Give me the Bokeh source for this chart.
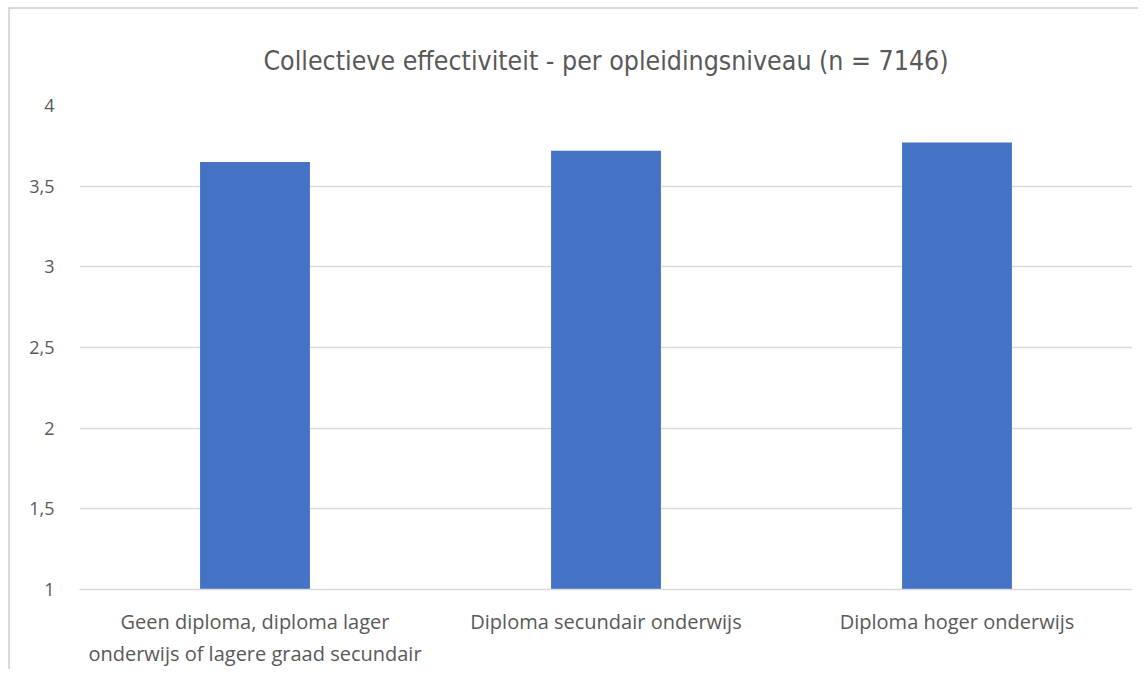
from bokeh.plotting import figure
from bokeh.models import ColumnDataSource, FactorRange, Range1d, FixedTicker, CustomJSTickFormatter
from bokeh.embed import file_html
from bokeh.resources import INLINE

categories = [
    "Geen diploma, diploma lager\nonderwijs of lagere graad secundair",
    "Diploma secundair onderwijs",
    "Diploma hoger onderwijs",
]
values = [3.65, 3.72, 3.77]
y_ticks = [1, 1.5, 2, 2.5, 3, 3.5, 4]
title_text = "Collectieve effectiviteit - per opleidingsniveau (n = 7146)"

TEXT = "#595959"
GRID = "#d9d9d9"
BAR = "#4472c4"
LABEL_FONT = "'Open Sans', sans-serif"
TITLE_FONT = "'Liberation Sans Narrow', 'DejaVu Sans Condensed', sans-serif"

source = ColumnDataSource(data=dict(cat=categories, val=values))

p = figure(
    width=1130, height=662,
    x_range=FactorRange(factors=categories),
    y_range=Range1d(1, 4),
    output_backend="svg", toolbar_location=None, tools="",
    min_border_left=69, min_border_right=8, min_border_top=96, min_border_bottom=82,
)
p.styles = {
    "margin-left": "8px", "margin-top": "7px",
    "border-top": f"2px solid {GRID}", "border-left": f"2px solid {GRID}",
}

p.vbar(x="cat", top="val", bottom=1, width=0.313, source=source, color=BAR, line_color=None)

p.title.text = title_text
p.title.align = "center"
p.title.text_font = TITLE_FONT
p.title.text_font_size = "26.5px"
p.title.text_font_style = "normal"
p.title.text_color = TEXT
p.title.standoff = 60

p.outline_line_color = None
p.background_fill_color = "white"
p.border_fill_color = "white"

p.xgrid.grid_line_color = None
p.ygrid.grid_line_color = GRID
p.ygrid.grid_line_width = 1.5
p.ygrid.ticker = FixedTicker(ticks=y_ticks)

p.yaxis.ticker = FixedTicker(ticks=y_ticks)
p.yaxis.formatter = CustomJSTickFormatter(code="return tick.toString().replace('.', ',');")
p.yaxis.axis_line_color = None
p.yaxis.major_tick_line_color = None
p.yaxis.minor_tick_line_color = None
p.yaxis.major_label_text_font = LABEL_FONT
p.yaxis.major_label_text_font_size = "18px"
p.yaxis.major_label_text_color = TEXT
p.yaxis.major_label_standoff = 19

p.xaxis.axis_line_color = GRID
p.xaxis.axis_line_width = 1.5
p.xaxis.major_tick_line_color = None
p.xaxis.minor_tick_line_color = None
p.xaxis.major_label_text_font = LABEL_FONT
p.xaxis.major_label_text_font_size = "20px"
p.xaxis.major_label_text_color = TEXT
p.xaxis.major_label_standoff = 12
p.xaxis.major_label_orientation = "horizontal"

open("out.html", "w").write(file_html(p, INLINE))
